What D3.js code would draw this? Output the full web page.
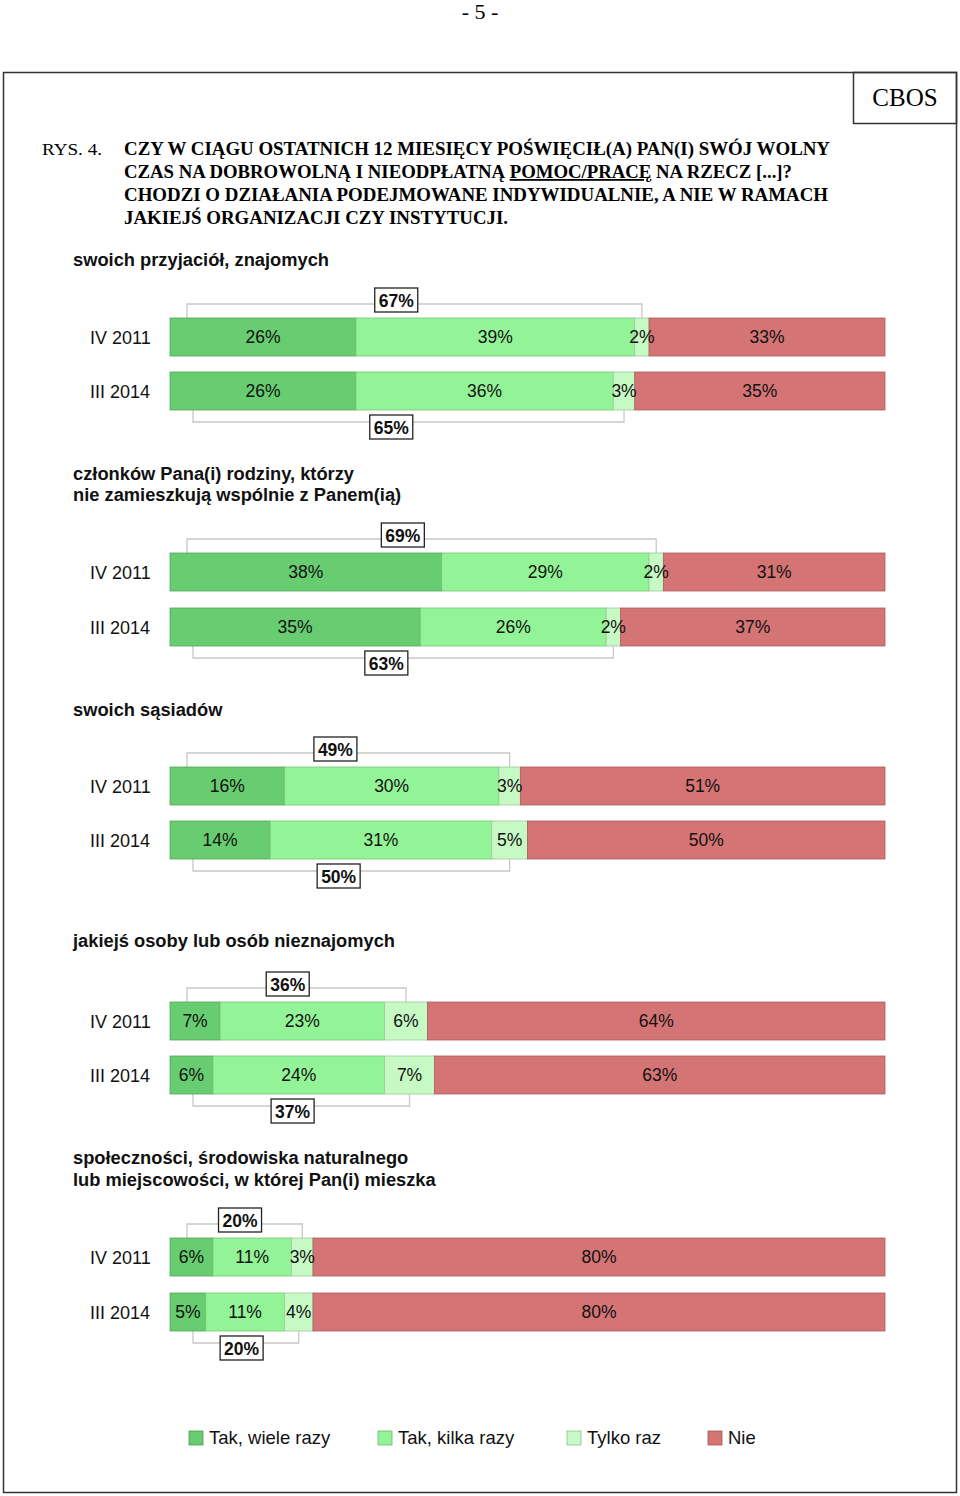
<!DOCTYPE html>
<html><head><meta charset="utf-8">
<script src="https://cdn.jsdelivr.net/npm/d3@7"></script>
<style>body{margin:0;background:#fff}svg{display:block}</style>
</head><body>
<script>
const categories = ["swoich przyjaciół, znajomych",
  "członków Pana(i) rodziny, którzy\nnie zamieszkują wspólnie z Panem(ią)",
  "swoich sąsiadów",
  "jakiejś osoby lub osób nieznajomych",
  "społeczności, środowiska naturalnego\nlub miejscowości, w której Pan(i) mieszka"];
const periods = ["IV 2011", "III 2014"];
const seriesNames = ["Tak, wiele razy", "Tak, kilka razy", "Tylko raz", "Nie"];
const wieleRazy2011 = [26, 38, 16, 7, 6];
const kilkaRazy2011 = [39, 29, 30, 23, 11];
const tylkoRaz2011  = [2, 2, 3, 6, 3];
const nie2011       = [33, 31, 51, 64, 80];
const wieleRazy2014 = [26, 35, 14, 6, 5];
const kilkaRazy2014 = [36, 26, 31, 24, 11];
const tylkoRaz2014  = [3, 2, 5, 7, 4];
const nie2014       = [35, 37, 50, 63, 80];
const sumTak2011 = [67, 69, 49, 36, 20];
const sumTak2014 = [65, 63, 50, 37, 20];
const titleLines = ["CZY W CIĄGU OSTATNICH 12 MIESIĘCY POŚWIĘCIŁ(A) PAN(I) SWÓJ WOLNY",
  "CZAS NA DOBROWOLNĄ I NIEODPŁATNĄ POMOC/PRACĘ NA RZECZ [...]?",
  "CHODZI O DZIAŁANIA PODEJMOWANE INDYWIDUALNIE, A NIE W RAMACH",
  "JAKIEJŚ ORGANIZACJI CZY INSTYTUCJI."];

const colors = ["#68cc70", "#93f497", "#c6f9c4", "#d47474"];
const W = 960, H = 1496;
const svg = d3.select("body").append("svg").attr("width", W).attr("height", H);

// page header
svg.append("text").attr("x", 480).attr("y", 19).attr("text-anchor", "middle")
  .attr("font-family", "Liberation Serif").attr("font-size", 22).text("- 5 -");
// frame
svg.append("rect").attr("x", 3.5).attr("y", 72.5).attr("width", 953).attr("height", 1420)
  .attr("fill", "none").attr("stroke", "#333").attr("stroke-width", 1.5);
svg.append("rect").attr("x", 853.5).attr("y", 72.5).attr("width", 103).attr("height", 51)
  .attr("fill", "none").attr("stroke", "#333").attr("stroke-width", 1.5);
svg.append("text").attr("x", 905).attr("y", 106).attr("text-anchor", "middle")
  .attr("font-family", "Liberation Serif").attr("font-size", 25).text("CBOS");

// title
svg.append("text").attr("x", 42).attr("y", 155).attr("font-family", "Liberation Serif")
  .attr("font-size", 17).attr("textLength", 60).attr("lengthAdjust", "spacingAndGlyphs").text("RYS. 4.");
const tlen = [706, 668, 704, 384];
titleLines.forEach((t, i) => {
  const tx = svg.append("text").attr("x", 124).attr("y", 155 + i * 23)
    .attr("font-family", "Liberation Serif").attr("font-weight", "bold").attr("font-size", 18)
    .attr("textLength", tlen[i]).attr("lengthAdjust", "spacingAndGlyphs");
  if (i === 1) {
    tx.append("tspan").text("CZAS NA DOBROWOLNĄ I NIEODPŁATNĄ ");
    tx.append("tspan").attr("text-decoration", "underline").text("POMOC/PRACĘ");
    tx.append("tspan").text(" NA RZECZ [...]?");
  } else tx.text(t);
});

const x = d3.scaleLinear().domain([0, 100]).range([170, 885]);

const groups = [
  {titleY: [260], bar1: 318, bar2: 372},
  {titleY: [474, 495], bar1: 553, bar2: 608},
  {titleY: [710], bar1: 767, bar2: 821},
  {titleY: [941], bar1: 1002, bar2: 1056},
  {titleY: [1158, 1180], bar1: 1238, bar2: 1293}
];
const barH = 38;

categories.forEach((cat, gi) => {
  const g = groups[gi];
  const lines = cat.split("\n");
  lines.forEach((l, li) => {
    svg.append("text").attr("x", 73).attr("y", g.titleY[li] + 6)
      .attr("font-family", "Liberation Sans").attr("font-weight", "bold").attr("font-size", 18.3)
      .attr("fill", "#111").text(l);
  });
  const rows = [
    {label: periods[0], y: g.bar1, vals: [wieleRazy2011[gi], kilkaRazy2011[gi], tylkoRaz2011[gi], nie2011[gi]], sum: sumTak2011[gi], top: true},
    {label: periods[1], y: g.bar2, vals: [wieleRazy2014[gi], kilkaRazy2014[gi], tylkoRaz2014[gi], nie2014[gi]], sum: sumTak2014[gi], top: false}
  ];
  rows.forEach(r => {
    let cum = 0;
    const starts = r.vals.map(v => { const s = cum; cum += v; return s; });
    const left = x(0) + (r.top ? 17 : 23);
    const right = x(starts[2] + r.vals[2] / 2);
    const by = r.top ? r.y - 14 : r.y + barH + 12;
    const ey = r.top ? r.y : r.y + barH;
    svg.append("path")
      .attr("d", `M${left},${ey}V${by}H${right}V${ey}`)
      .attr("fill", "none").attr("stroke", "#c8c8c8").attr("stroke-width", 1.3);
    r.vals.forEach((v, si) => {
      svg.append("rect").attr("x", x(starts[si])).attr("y", r.y)
        .attr("width", x(starts[si] + v) - x(starts[si])).attr("height", barH)
        .attr("fill", colors[si]).attr("stroke", d3.color(colors[si]).darker(0.6)).attr("stroke-width", 0.8);
    });
    r.vals.forEach((v, si) => {
      svg.append("text").attr("x", x(starts[si] + v / 2)).attr("y", r.y + barH / 2 + 6)
        .attr("text-anchor", "middle").attr("font-family", "Liberation Sans").attr("font-size", 17.5)
        .attr("fill", "#111").text(v + "%");
    });
    svg.append("text").attr("x", 90).attr("y", r.y + barH / 2 + 7)
      .attr("font-family", "Liberation Sans").attr("font-size", 18).attr("fill", "#111").text(r.label);
    const cx = left + (right - left) * 0.46;
    const cy = r.top ? by - 4 : by + 5;
    const bw = 43, bh = 24;
    svg.append("rect").attr("x", cx - bw / 2).attr("y", cy - bh / 2).attr("width", bw).attr("height", bh)
      .attr("fill", "#fff").attr("stroke", "#222").attr("stroke-width", 1.3);
    svg.append("text").attr("x", cx).attr("y", cy + 6.5).attr("text-anchor", "middle")
      .attr("font-family", "Liberation Sans").attr("font-weight", "bold").attr("font-size", 17.5)
      .attr("fill", "#111").text(r.sum + "%");
  });
});

// legend
const legX = [189, 378, 567, 708];
seriesNames.forEach((n, i) => {
  svg.append("rect").attr("x", legX[i]).attr("y", 1431).attr("width", 14).attr("height", 14)
    .attr("fill", colors[i]).attr("stroke", d3.color(colors[i]).darker(0.8)).attr("stroke-width", 0.8);
  svg.append("text").attr("x", legX[i] + 20).attr("y", 1444)
    .attr("font-family", "Liberation Sans").attr("font-size", 18.5).attr("fill", "#111").text(n);
});
</script>
</body></html>
